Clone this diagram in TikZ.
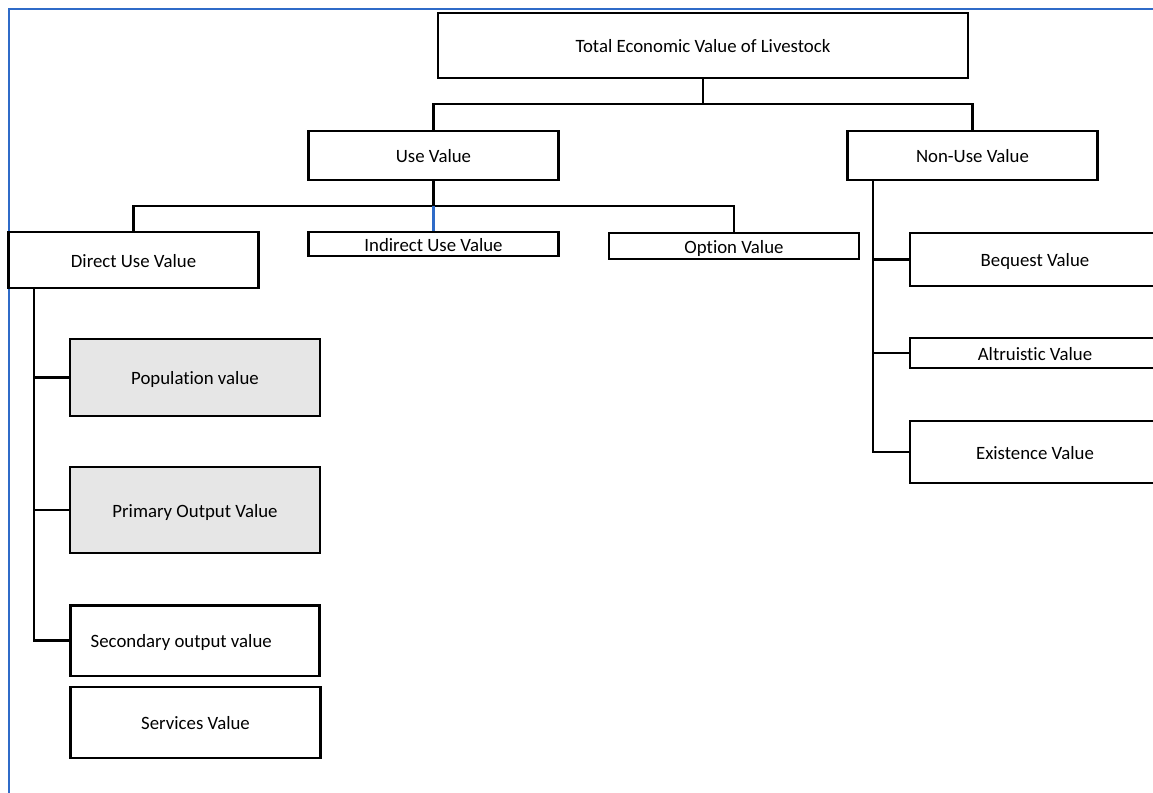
\documentclass[tikz,border=0pt]{standalone}
\usepackage{fontspec}
\setmainfont{Carlito}[Ligatures={NoCommon}]
\usepackage{xcolor}
\definecolor{mblue}{HTML}{2F6BC8}
\definecolor{mgray}{HTML}{E6E6E6}
\usepackage{tikz}

\tikzset{
  box/.style={draw, line width=1.3pt, inner sep=0pt, minimum width=5cm,
              text height=2.0ex, text depth=0.3ex,
              font=\fontsize{10.7}{12}\selectfont},
  shaded/.style={box, fill=mgray, line width=0.9pt},
  link/.style={line width=1.4pt},
}

\begin{document}
\begin{tikzpicture}[x=0.02cm, y=-0.02cm]

            \useasboundingbox (0, 0) rectangle (1153, 793);
            \draw[mblue, line width=1.3pt] (9, 820) |- (1180, 9);

            % top
            \node[box, minimum width=10.6cm, minimum height=1.3cm] (total) at (703, 45.5) {Total Economic Value of Livestock};
            \node[box, minimum height=0.98cm] (use) at (433.5, 155.5) {Use Value};
            \node[box, minimum height=0.98cm] (nonuse) at (972.5, 155.5) {Non-Use Value};

            % use value branch
            \node[box, minimum height=1.12cm] (direct) at (133.5, 260) {Direct Use Value};
            \node[box, minimum height=0.48cm] (indirect) at (433.5, 244) {Indirect Use Value};
            \node[box, minimum height=0.52cm] (option) at (734, 246) {Option Value};

            \node[shaded, minimum height=1.54cm] (popval) at (195, 377.5) {Population value};
            \node[shaded, minimum height=1.72cm] (primval) at (195, 510) {Primary Output Value};
            \node[box, line width=1.7pt, minimum height=1.42cm] (secval) at (195, 640.5) {\hspace*{-0.55cm}Secondary output value};
            \node[box, minimum height=1.42cm] (servval) at (195.5, 722.5) {Services Value};

            % non-use value branch
            \node[box, minimum height=1.06cm] (bequest) at (1035, 259.5) {Bequest Value};
            \node[box, minimum height=0.6cm] (altru) at (1035, 353) {Altruistic Value};
            \node[box, minimum height=1.24cm] (exist) at (1035, 452) {Existence Value};

            \coordinate (tbar) at (703, 104);
            \coordinate (ubar) at (433.5, 206);
            \coordinate (dtop) at (34, 288);
            \coordinate (ntop) at (873, 180);

            \draw[link] (total.south) -- (tbar) -| (use.north);
            \draw[link] (tbar) -| (nonuse.north);

            \draw[link] (use.south) -- (ubar) -| (direct.north);
            \draw[link] (ubar) -| (option.north);
            \draw[link, mblue] (ubar) -- (indirect.north);

            \draw[link] (dtop) |- (secval.west);
            \draw[link] (dtop) |- (popval.west);
            \draw[link] (dtop) |- (primval.west);

            \draw[link] (ntop) |- (exist.west);
            \draw[link] (ntop) |- (bequest.west);
            \draw[link] (ntop) |- (altru.west);

          \end{tikzpicture}
\end{document}
